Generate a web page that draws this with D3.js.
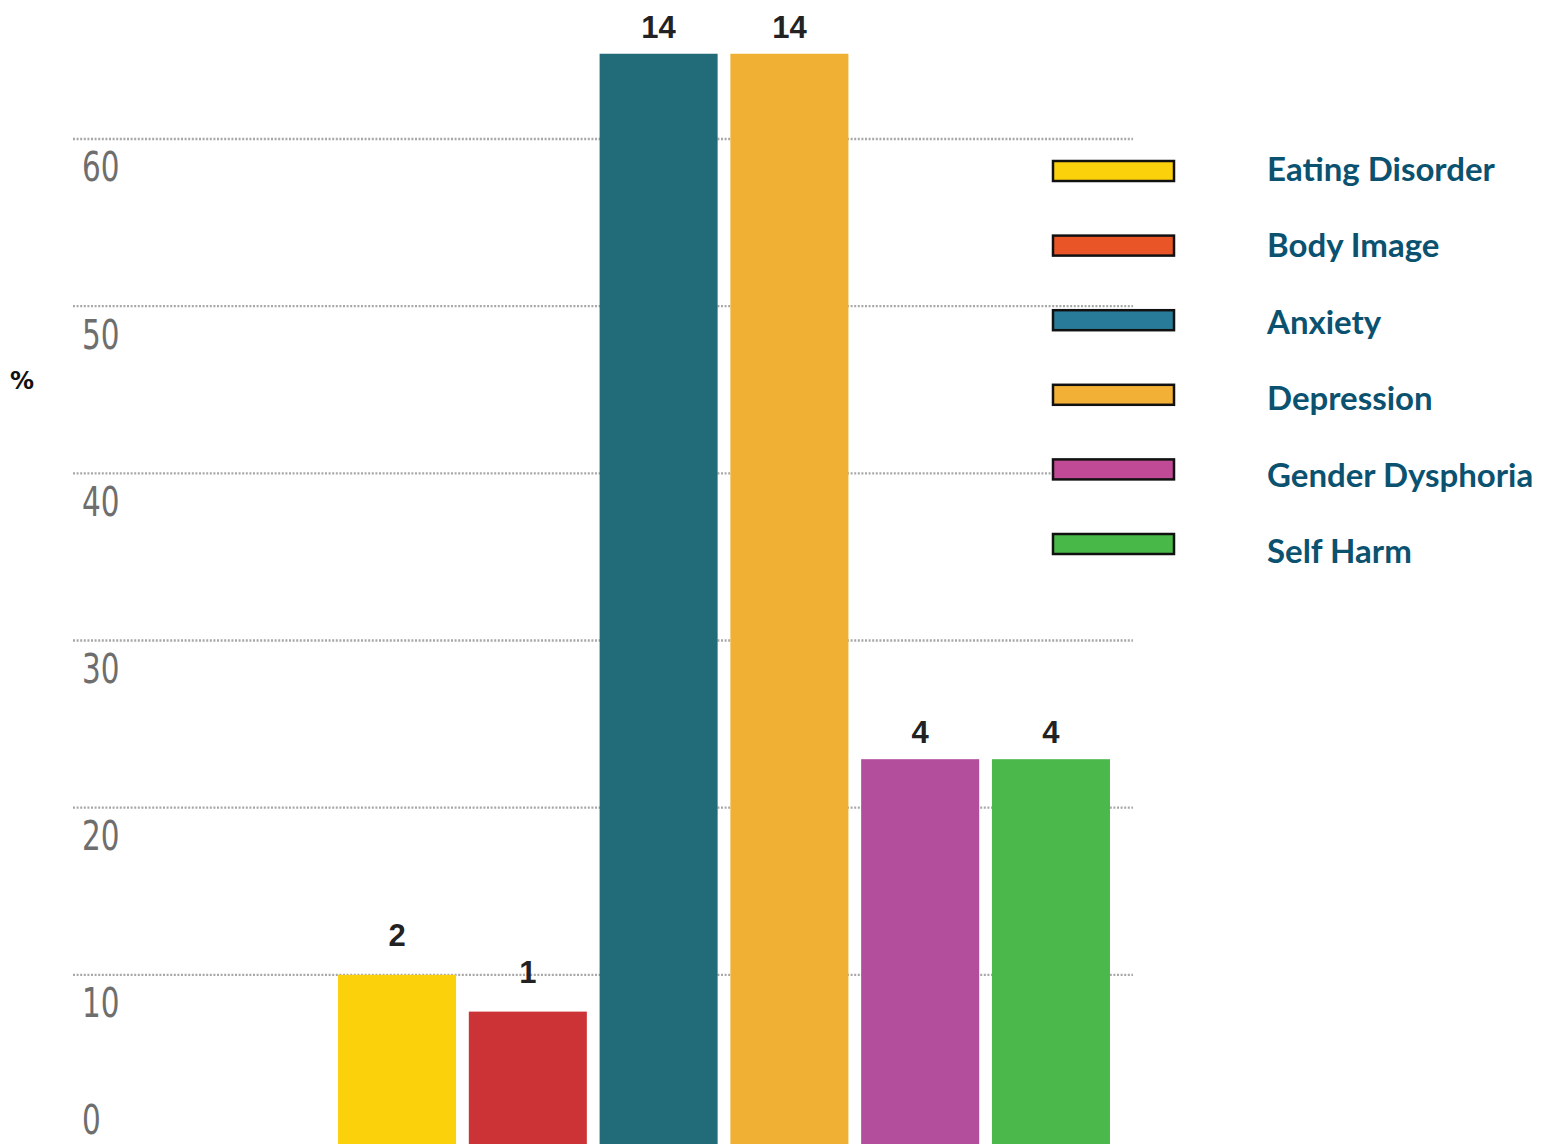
<!DOCTYPE html>
<html>
<head>
<meta charset="utf-8">
<script src="https://cdn.jsdelivr.net/npm/d3@7"></script>
<style>
html,body{margin:0;padding:0;background:#fff;overflow:hidden;}
</style>
</head>
<body>
<svg id="chart" width="1547" height="1144"></svg>
<script>
const categories = ["Eating Disorder","Body Image","Anxiety","Depression","Gender Dysphoria","Self Harm"];
const percentValues = [10, 7.8, 65.1, 65.1, 22.9, 22.9];
const countLabels = ["2","1","14","14","4","4"];
const barColors = ["#FBD10B","#CC3336","#226B78","#F0B034","#B34E9C","#4AB84A"];
const legendColors = ["#FBD10B","#E95527","#287C99","#F2B136","#C04A96","#48B848"];
const yTicks = [0,10,20,30,40,50,60];

const svg = d3.select("#chart");

const y = d3.scaleLinear().domain([0, 60]).range([1142, 139]);
const x = d3.scaleBand().domain(categories).range([331.75, 1116.25]).paddingInner(0.0975).paddingOuter(0.048);

// gridlines
svg.append("g").selectAll("line").data(yTicks.filter(d => d > 0)).join("line")
  .attr("x1", 73).attr("x2", 1133)
  .attr("y1", d => y(d)).attr("y2", d => y(d))
  .attr("stroke", "#a8a8a8").attr("stroke-width", 2.4)
  .attr("stroke-dasharray", "2,1.6");

// y axis labels
const yAxis = d3.axisLeft(y).tickValues(yTicks).tickSize(0).tickFormat(d3.format("d"));
const ga = svg.append("g").attr("transform", "translate(82,0)").call(yAxis);
ga.select(".domain").remove();
ga.selectAll("text")
  .attr("text-anchor", "start")
  .attr("x", 0)
  .attr("dy", d => d === 0 ? -9 : 42)
  .attr("transform", "scale(0.82,1)")
  .attr("fill", "#6e6e6e")
  .style("font-family", "'Liberation Sans Narrow', 'DejaVu Sans Condensed', sans-serif")
  .style("font-size", "40px");

// bars
svg.append("g").selectAll("rect").data(categories).join("rect")
  .attr("x", d => x(d))
  .attr("width", x.bandwidth())
  .attr("y", (d, i) => y(percentValues[i]))
  .attr("height", (d, i) => y(0) - y(percentValues[i]) + 4)
  .attr("fill", (d, i) => barColors[i]);

// value labels
svg.append("g").selectAll("text").data(categories).join("text")
  .attr("x", d => x(d) + x.bandwidth() / 2)
  .attr("y", (d, i) => y(percentValues[i]) - (percentValues[i] < 15 ? 29 : 16))
  .attr("text-anchor", "middle")
  .attr("fill", "#222")
  .style("font-family", "'Liberation Sans', Arial, sans-serif")
  .style("font-weight", "bold")
  .style("font-size", "31px")
  .text((d, i) => countLabels[i]);

// % label
svg.append("text")
  .attr("x", 22).attr("y", 389)
  .attr("text-anchor", "middle")
  .attr("fill", "#111")
  .style("font-family", "'DejaVu Sans', sans-serif")
  .style("font-weight", "bold")
  .style("font-size", "24px")
  .text("%");

// legend
const swatchY = d3.scalePoint().domain(categories).range([171, 544]);
const textY = d3.scalePoint().domain(categories).range([181, 563]);
const lg = svg.append("g");
lg.selectAll("rect").data(categories).join("rect")
  .attr("x", 1053).attr("width", 121)
  .attr("y", d => swatchY(d) - 10).attr("height", 20)
  .attr("fill", (d, i) => legendColors[i])
  .attr("stroke", "#111").attr("stroke-width", 2.5);
lg.selectAll("text").data(categories).join("text")
  .attr("x", 1267)
  .attr("y", d => textY(d))
  .attr("fill", "#0B5270")
  .style("font-family", "Lato, 'DejaVu Sans', sans-serif")
  .style("font-weight", "bold")
  .style("font-size", "33px")
  .text(d => d);
</script>
</body>
</html>
